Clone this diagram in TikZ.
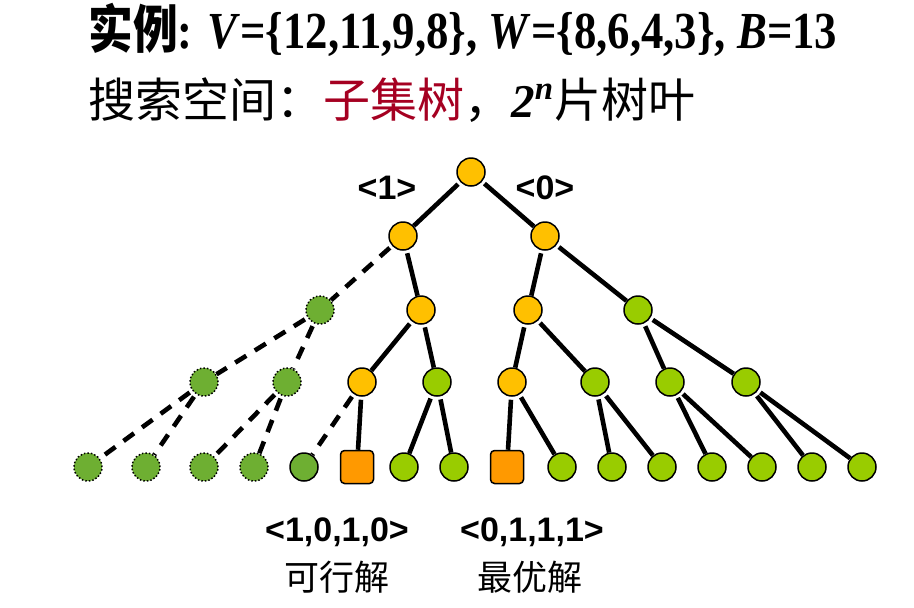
\documentclass[tikz,border=0pt]{standalone}
\usepackage{fontspec}
\setmainfont{Liberation Serif}
\setsansfont{Liberation Sans}
\newfontfamily\cjk{Noto Sans CJK SC}
\usepackage{tikz}
\definecolor{gold}{HTML}{FFC000}
\definecolor{leafgreen}{HTML}{99CC00}
\definecolor{cutgreen}{HTML}{6EAF32}
\definecolor{best}{HTML}{FF9900}
\definecolor{wine}{HTML}{A50021}

\begin{document}
\begin{tikzpicture}[
  x=0.5pt,y=-0.5pt,
  every node/.style={inner sep=0pt},
  vertex/.style={circle,draw,line width=0.75pt,minimum size=14pt},
  live/.style={vertex,fill=gold},
  open/.style={vertex,fill=leafgreen},
  pruned/.style={vertex,fill=cutgreen,densely dotted},
  dead/.style={vertex,fill=cutgreen},
  answer/.style={draw,line width=0.75pt,fill=best,rounded corners=2pt,minimum size=16.5pt},
  edge/.style={line width=2.3pt,shorten <=1.5pt},
  cut/.style={edge,dash pattern=on 6.5pt off 5pt},
  tag/.style={font=\sffamily\bfseries\fontsize{17}{19}\selectfont},
]
\useasboundingbox (0,0) rectangle (914,607);

% heading
\node[anchor=west,font=\bfseries\fontsize{26}{30}\selectfont] (title) at (88,30)
  {\scalebox{0.86}[1]{{\cjk 实例}: \textit{V}=\{12,11,9,8\}, \textit{W}=\{8,6,4,3\}, \textit{B}=13}};
\node[anchor=west,font=\fontsize{23.5}{28}\selectfont] (space) at (88,100)
  {{\cjk 搜索空间：}{\cjk\color{wine}子集树}{\cjk ，}\textbf{\textit{2}\textsuperscript{\textit{n}}}{\cjk 片树叶}};

% tree
\node[live] (r) at (471,172) {};
\node[live] (a1) at (403,236) {};
\node[live] (a0) at (545,236) {};

\node[pruned] (b11) at (320,310) {};
\node[live] (b10) at (421,310) {};
\node[live] (b01) at (528,310) {};
\node[open] (b00) at (638,310) {};

\node[pruned] (c111) at (204,382) {};
\node[pruned] (c110) at (287,382) {};
\node[live] (c101) at (362,382) {};
\node[open] (c100) at (437,382) {};
\node[live] (c011) at (512,382) {};
\node[open] (c010) at (595,382) {};
\node[open] (c001) at (670,382) {};
\node[open] (c000) at (746,382) {};

\foreach \x/\n/\s in {88/1111/pruned,146/1110/pruned,204/1101/pruned,254/1100/pruned,
  304/1011/dead,357/1010/answer,404/1001/open,454/1000/open,507/0111/answer,562/0110/open,
  612/0101/open,662/0100/open,712/0011/open,762/0010/open,812/0001/open,862/0000/open}
  \node[\s] (d\n) at (\x,467) {};

\foreach \p/\c in {r/a1,r/a0,a1/b10,a0/b01,a0/b00,b10/c101,b10/c100,b01/c011,b01/c010,
  b00/c001,b00/c000,c101/d1010,c100/d1001,c100/d1000,c011/d0111,c011/d0110,
  c010/d0101,c010/d0100,c001/d0011,c001/d0010,c000/d0001,c000/d0000}
  \draw[edge] (\p) -- (\c);
\foreach \p/\c in {a1/b11,b11/c111,b11/c110,c111/d1111,c111/d1110,c110/d1101,c110/d1100,c101/d1011}
  \draw[cut] (\p) -- (\c);

% labels
\node[tag] (one) at (387,188) {<1>};
\node[tag] (zero) at (545,188) {<0>};
\node[tag] (feas) at (337,532) {<1,0,1,0>};
\node[tag] (opt) at (532,532) {<0,1,1,1>};
\node[font=\cjk\fontsize{17.5}{20}\selectfont] (feastxt) at (337,577) {可行解};
\node[font=\cjk\fontsize{17.5}{20}\selectfont] (opttxt) at (530,577) {最优解};
\end{tikzpicture}
\end{document}
